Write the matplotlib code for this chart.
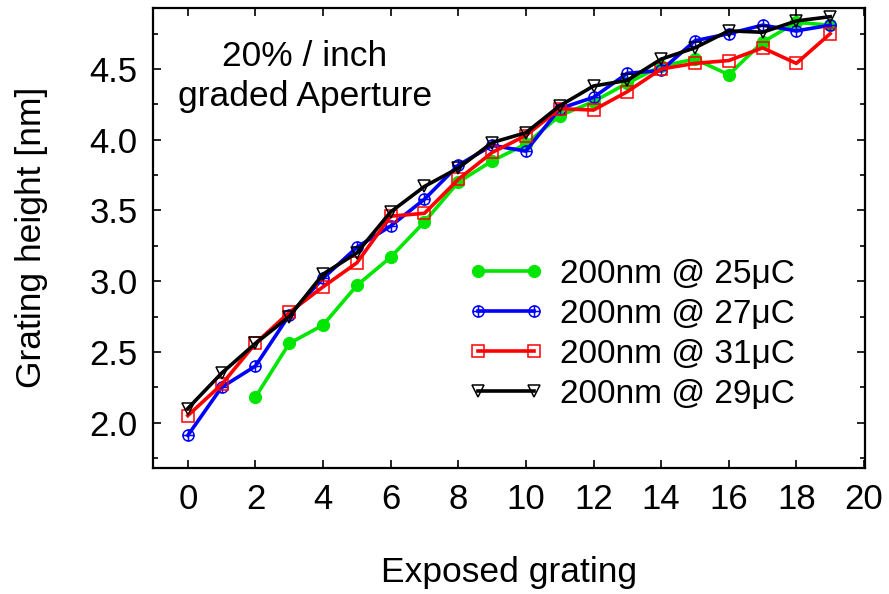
import numpy as np
import matplotlib
matplotlib.use("Agg")
import matplotlib.pyplot as plt
from matplotlib.path import Path

plt.rcParams['font.family'] = ['Liberation Sans', 'DejaVu Sans']

# exposed grating index
grating = list(range(20))
# grating heights [nm] per dose
h25 = [None, None, 2.18, 2.56, 2.69, 2.97, 3.17, 3.42, 3.70, 3.85, 3.97,
       4.17, 4.27, 4.40, 4.52, 4.57, 4.46, 4.69, 4.83, 4.81]
h27 = [1.91, 2.25, 2.40, 2.76, 3.02, 3.24, 3.39, 3.58, 3.82, 3.96, 3.92,
       4.22, 4.30, 4.47, 4.49, 4.70, 4.75, 4.81, 4.77, 4.81]
h31 = [2.05, 2.27, 2.56, 2.78, 2.96, 3.13, 3.46, 3.48, 3.72, 3.91, 4.03,
       4.22, 4.21, 4.34, 4.50, 4.54, 4.56, 4.65, 4.54, 4.75]
h29 = [2.10, 2.35, 2.56, 2.75, 3.05, 3.20, 3.49, 3.67, 3.80, 3.98, 4.05,
       4.24, 4.38, 4.42, 4.57, 4.65, 4.77, 4.76, 4.84, 4.87]

labels = ['200nm @ 25μC', '200nm @ 27μC', '200nm @ 31μC', '200nm @ 29μC']


def to_arr(v):
    return np.array([np.nan if x is None else x for x in v], dtype=float)


# circle with a plus inside
circ = Path.unit_circle()
cross = Path([(-1, 0), (1, 0), (0, -1), (0, 1)],
             [Path.MOVETO, Path.LINETO, Path.MOVETO, Path.LINETO])
oplus = Path.make_compound_path(circ, cross)

fig = plt.figure(figsize=(8.89, 5.94), dpi=100)
ax = fig.add_axes([153 / 889, 1 - 467.5 / 594, 712 / 889, 460 / 594])

ax.plot(grating, to_arr(h25), color='#00e600', lw=2.6, marker='o',
        ms=8.5, mec='#00e600', mfc='#00e600', label=labels[0])
ax.plot(grating, to_arr(h27), color='#0000ff', lw=2.6, marker=oplus,
        ms=8, mec='#0000ff', mfc='none', mew=1.1, label=labels[1])
ax.plot(grating, to_arr(h31), color='#ff0000', lw=2.6, marker='s',
        ms=8, mec='#ff0000', mfc='none', mew=1.1, label=labels[2])
ax.plot(grating, to_arr(h29), color='black', lw=2.6, marker='v',
        ms=8.5, mec='black', mfc='none', mew=1.1, label=labels[3])

ax.set_xlim(-1.03, 20.03)
ax.set_ylim(1.683, 4.935)
ax.set_xticks(range(0, 21, 2))
ax.set_yticks([2.0, 2.5, 3.0, 3.5, 4.0, 4.5])
ax.set_yticklabels(['2.0', '2.5', '3.0', '3.5', '4.0', '4.5'])
ax.set_yticks(np.arange(1.75, 4.95, 0.25), minor=True)

ax.tick_params(which='both', direction='in', top=True, right=True,
               labelsize=25, width=1.2)
ax.tick_params(which='major', length=5.5)
ax.tick_params(which='minor', length=3.5)
ax.tick_params(axis='y', pad=11)
ax.tick_params(axis='x', pad=11)
for s in ax.spines.values():
    s.set_linewidth(1.6)

ax.set_xlabel('Exposed grating', fontsize=25.5)
ax.xaxis.set_label_coords(0.5, -0.193)
ax.set_ylabel('Grating height [nm]', fontsize=25.5)
ax.yaxis.set_label_coords(-0.148, 0.5)

ax.text(3.46, 4.45, '20% / inch\ngraded Aperture', fontsize=25.5,
        ha='center', va='center', multialignment='center', linespacing=1.27)

ax.legend(loc='upper left', bbox_to_anchor=(468 / 889, 1 - 259 / 594),
          bbox_transform=fig.transFigure, frameon=False, fontsize=24,
          numpoints=2, handlelength=2.28, handletextpad=0.48,
          labelspacing=0.27, borderpad=0, borderaxespad=0)

fig.savefig('out.png', dpi=100)
